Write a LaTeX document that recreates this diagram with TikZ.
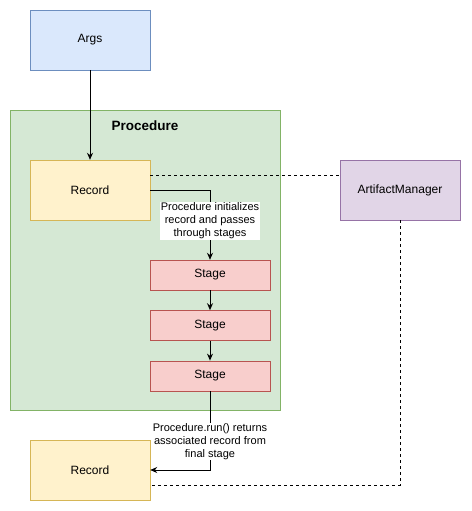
\documentclass[tikz,border=0pt]{standalone}
\usepackage{fontspec}
\setmainfont{Liberation Sans}
\usetikzlibrary{positioning, arrows.meta}

\definecolor{argsfill}{HTML}{DAE8FC}
\definecolor{argsline}{HTML}{6C8EBF}
\definecolor{procfill}{HTML}{D5E8D4}
\definecolor{procline}{HTML}{82B366}
\definecolor{recfill}{HTML}{FFF2CC}
\definecolor{recline}{HTML}{D6B656}
\definecolor{amfill}{HTML}{E1D5E7}
\definecolor{amline}{HTML}{9673A6}
\definecolor{stagefill}{HTML}{F8CECC}
\definecolor{stageline}{HTML}{B85450}

\tikzset{
  bigbox/.style={draw, minimum width=120pt, minimum height=60pt, inner sep=0pt,
    font=\fontsize{12}{14}\selectfont},
  stagebox/.style={draw=stageline, fill=stagefill, minimum width=120pt,
    minimum height=30pt, inner sep=0pt, font=\fontsize{12}{14}\selectfont},
  edgelabel/.style={fill=white, align=center, inner sep=1pt,
    font=\fontsize{11}{12.7}\selectfont},
  flow/.style={-{Stealth[length=7pt,width=6pt]}, line width=1pt},
  link/.style={dashed, line width=1pt}
}

\begin{document}
\begin{tikzpicture}[x=1pt, y=-1pt]
\useasboundingbox (0,0) rectangle (471,511);
\node (proc) [draw=procline, fill=procfill, minimum width=270pt,
minimum height=300pt, inner sep=0pt] at (145,260) {};
\node (proctitle) [font=\fontsize{13.5}{16}\selectfont\bfseries] at (145,126) {Procedure};
\node (args) [bigbox, draw=argsline, fill=argsfill] at (90,40) {Args};
\node (rec1) [bigbox, draw=recline, fill=recfill] at (90,190) {Record};
\node (am) [bigbox, draw=amline, fill=amfill] at (400,190) {ArtifactManager};
\node (st1) [stagebox] at (210,275) {Stage};
\node (st2) [stagebox, below=20pt of st1] {Stage};
\node (st3) [stagebox, below=20pt of st2] {Stage};
\node (rec2) [bigbox, draw=recline, fill=recfill] at (90,470) {Record};
\draw [flow] (args) -- (rec1);
\draw [link] ([yshift=15pt]rec1.east) -- ([yshift=15pt]am.west);
\draw [flow] (rec1.east) -| (st1.north)
  node [edgelabel, pos=0.72] {Procedure initializes\\record and passes\\through stages};
\draw [flow] (st1) -- (st2);
\draw [flow] (st2) -- (st3);
\draw [flow] (st3.south) |- (rec2.east)
  node [edgelabel, pos=0.32] {Procedure.run() returns\\associated record from\\final stage};
\draw [link] (am.south) |- ([yshift=-15pt]rec2.east);
\end{tikzpicture}
\end{document}
